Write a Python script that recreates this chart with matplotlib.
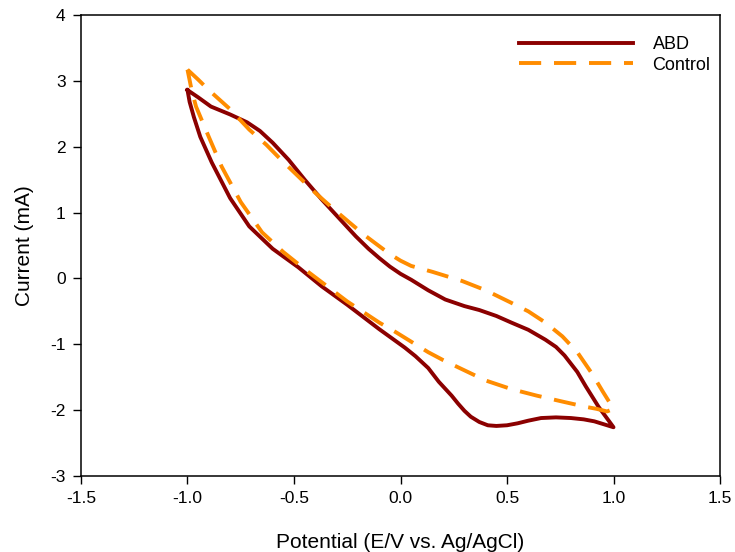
import matplotlib
matplotlib.use('Agg')
import matplotlib.pyplot as plt

plt.rcParams['font.family'] = ['Liberation Sans', 'DejaVu Sans']
plt.rcParams['axes.unicode_minus'] = False

# ABD cyclic voltammogram (forward branch then return)
abd_x = [-1.00, -0.95, -0.89, -0.80, -0.72, -0.66, -0.60, -0.525, -0.45, -0.37, -0.29, -0.21, -0.15, -0.10, -0.05,
         0.00, 0.05, 0.13, 0.21, 0.30, 0.37, 0.45, 0.52, 0.60, 0.68, 0.73, 0.77, 0.83, 0.87, 0.93, 1.00,
         0.96, 0.91, 0.86, 0.80, 0.73, 0.66, 0.60, 0.55, 0.50, 0.45, 0.41, 0.37, 0.33, 0.30, 0.27, 0.24,
         0.18, 0.13, 0.07, 0.02, -0.04, -0.10, -0.25, -0.37, -0.48, -0.60, -0.71, -0.80, -0.886, -0.94,
         -0.97, -0.99, -1.00]
abd_y = [2.86, 2.75, 2.61, 2.49, 2.37, 2.24, 2.06, 1.80, 1.50, 1.20, 0.92, 0.64, 0.45, 0.31, 0.18,
         0.07, -0.02, -0.18, -0.32, -0.42, -0.48, -0.57, -0.67, -0.78, -0.93, -1.04, -1.17, -1.42, -1.64, -1.95, -2.26,
         -2.22, -2.17, -2.14, -2.12, -2.11, -2.12, -2.16, -2.20, -2.23, -2.24, -2.23, -2.18, -2.10, -2.01, -1.90, -1.78,
         -1.57, -1.36, -1.18, -1.05, -0.91, -0.77, -0.40, -0.12, 0.17, 0.45, 0.79, 1.22, 1.76, 2.15,
         2.45, 2.68, 2.86]

ctl_x = [-1.00, -0.95, -0.90, -0.80, -0.71, -0.63, -0.56, -0.48, -0.40, -0.32, -0.24, -0.17, -0.10, -0.05,
         0.00, 0.05, 0.15, 0.29, 0.40, 0.52, 0.60, 0.68, 0.76, 0.83, 0.90, 0.95, 1.00,
         0.97, 0.92, 0.87, 0.76, 0.64, 0.52, 0.40, 0.29, 0.20, 0.13, 0.05, -0.02, -0.10,
         -0.25, -0.43, -0.55, -0.65, -0.75, -0.84, -0.90, -0.96, -0.98, -1.00]
ctl_y = [3.17, 3.02, 2.86, 2.57, 2.26, 2.03, 1.80, 1.55, 1.30, 1.07, 0.85, 0.66, 0.49, 0.37,
         0.27, 0.19, 0.10, -0.04, -0.18, -0.37, -0.50, -0.67, -0.88, -1.12, -1.45, -1.72, -1.98,
         -2.02, -1.98, -1.95, -1.87, -1.78, -1.68, -1.55, -1.38, -1.24, -1.12, -0.96, -0.82, -0.67,
         -0.35, 0.09, 0.40, 0.70, 1.16, 1.70, 2.15, 2.61, 2.85, 3.17]

fig = plt.figure(figsize=(7.35, 5.52), dpi=100)
ax = fig.add_subplot(111)
fig.subplots_adjust(left=0.1102, right=0.9796, top=0.9728, bottom=0.1377)

ax.plot(abd_x, abd_y, color='#8b0000', lw=2.8, label='ABD', solid_joinstyle='round')
ax.plot(ctl_x, ctl_y, color='#ff8c00', lw=2.8, ls=(0, (5.7, 3.3)), label='Control',
        dash_capstyle='butt', dash_joinstyle='round')

ax.set_xlim(-1.5, 1.5)
ax.set_ylim(-3, 4)
ax.set_xticks([-1.5, -1.0, -0.5, 0.0, 0.5, 1.0, 1.5])
ax.set_xticklabels(['-1.5', '-1.0', '-0.5', '0.0', '0.5', '1.0', '1.5'])
ax.set_yticks(range(-3, 5))
ax.tick_params(direction='out', length=6, width=1, labelsize=12.5, top=False, right=False, pad=5)
for s in ax.spines.values():
    s.set_linewidth(1.1)

ax.set_xlabel('Potential (E/V vs. Ag/AgCl)', fontsize=15, labelpad=19)
ax.set_ylabel('Current (mA)', fontsize=15, labelpad=12)

ax.legend(loc='upper right', bbox_to_anchor=(1.005, 0.982), frameon=False, fontsize=13,
          handlelength=6.3, handletextpad=1.1, borderaxespad=0.3, labelspacing=0.2)

fig.savefig('out.png', dpi=100)
